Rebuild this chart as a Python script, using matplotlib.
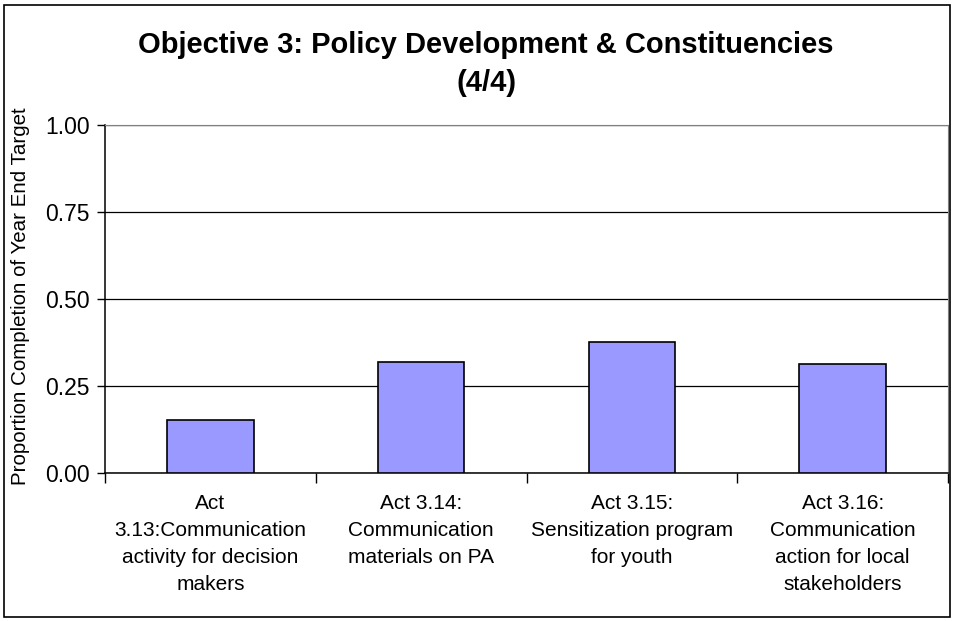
import matplotlib.pyplot as plt
from matplotlib.patches import Rectangle

# Activity labels and completion values
activities = ['Act\n3.13:Communication\nactivity for decision\nmakers',
              'Act 3.14:\nCommunication\nmaterials on PA',
              'Act 3.15:\nSensitization program\nfor youth',
              'Act 3.16:\nCommunication\naction for local\nstakeholders']
completion = [0.152, 0.319, 0.375, 0.313]
y_ticks = [0.00, 0.25, 0.50, 0.75, 1.00]

plt.rcParams['font.family'] = ['Liberation Sans', 'DejaVu Sans']

fig = plt.figure(figsize=(9.55, 6.21), dpi=100)
ax = fig.add_axes([0.110, 0.2388, 0.8827, 0.5599])

x = range(len(activities))
ax.bar(x, completion, width=0.41, color='#9999FF', edgecolor='black',
       linewidth=1.2, zorder=3)

ax.set_xlim(-0.5, len(activities) - 0.5)
ax.set_ylim(0, 1)
ax.set_yticks(y_ticks)
ax.set_yticklabels(['%.2f' % v for v in y_ticks], fontsize=16.5)
ax.yaxis.grid(True, color='black', linewidth=0.9, zorder=0)

ax.set_xticks(list(x))
ax.set_xticklabels(activities, fontsize=15, linespacing=1.55, va='top')
ax.tick_params(axis='x', length=0, pad=15)
ax.set_xticks([i - 0.5 for i in range(len(activities) + 1)], minor=True)
ax.tick_params(axis='x', which='minor', length=7, width=1, color='black')
ax.tick_params(axis='y', length=6, width=1, pad=5)

for side in ['top', 'right']:
    ax.spines[side].set_color('#808080')
for side in ['left', 'bottom']:
    ax.spines[side].set_color('black')
    ax.spines[side].set_linewidth(1.1)

ax.set_ylabel('Proportion Completion of Year End Target', fontsize=14.8)
ax.yaxis.set_label_coords(-0.089, 0.507)

fig.text(0.509, 0.927, 'Objective 3: Policy Development & Constituencies',
         ha='center', va='center', fontsize=21, fontweight='bold')
fig.text(0.509, 0.866, '(4/4)', ha='center', va='center',
         fontsize=21, fontweight='bold')

fig.patches.append(Rectangle((0.004, 0.006), 0.991, 0.986, transform=fig.transFigure,
                             fill=False, edgecolor='black', linewidth=1.2))

fig.savefig('out.png', dpi=100)
